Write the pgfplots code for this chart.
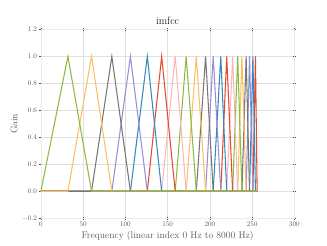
\documentclass[border=0pt]{standalone}
\usepackage{pgfplots}
\pgfplotsset{compat=1.18}
\definecolor{ggred}{HTML}{E24A33}
\definecolor{ggblue}{HTML}{348ABD}
\definecolor{ggpurple}{HTML}{988ED5}
\definecolor{gggray}{HTML}{777777}
\definecolor{ggyellow}{HTML}{FBC15E}
\definecolor{gggreen}{HTML}{8EBA42}
\definecolor{ggpink}{HTML}{FFB5B8}
\definecolor{txt}{HTML}{555555}
\begin{document}
\begin{tikzpicture}
\useasboundingbox (-0.8in,-0.528in) rectangle (5.6in,4.272in);
\begin{axis}[
  at={(0,0)}, anchor=south west,
  scale only axis, width=4.96in, height=3.696in,
  xmin=0, xmax=300, ymin=-0.2, ymax=1.2,
  xtick={0,50,...,300},
  ytick={-0.2,0,0.2,0.4,0.6,0.8,1.0,1.2},
  yticklabel style={/pgf/number format/.cd,fixed,fixed zerofill,precision=1},
  xticklabel style={/pgf/number format/.cd,fixed},
  tick label style={font=\fontsize{10}{12}\selectfont, text=txt},
  grid=major,
  major grid style={draw=black!12, line width=0.5pt},
  axis line style={draw=black!8},
  tick style={draw=black!70, line width=0.8pt},
  major tick length=4pt,
  tick align=center,
  xtick pos=both, ytick pos=both,
  title={imfcc},
  title style={font=\fontsize{15.5}{18}\selectfont, yshift=-2pt},
  xlabel={Frequency (linear index 0 Hz to 8000 Hz)},
  ylabel={Gain},
  label style={font=\fontsize{13.7}{16}\selectfont, text=txt},
  every axis plot/.append style={line width=1.5pt, no markers},
]
\addplot[ggred] coordinates {(0,0) (251,0) (254,1) (256,0)};
\addplot[ggblue] coordinates {(0,0) (247,0) (251,1) (254,0) (256,0)};
\addplot[ggpurple] coordinates {(0,0) (243,0) (247,1) (251,0) (256,0)};
\addplot[gggray] coordinates {(0,0) (238,0) (243,1) (247,0) (256,0)};
\addplot[ggyellow] coordinates {(0,0) (233,0) (238,1) (243,0) (256,0)};
\addplot[gggreen] coordinates {(0,0) (227,0) (233,1) (238,0) (256,0)};
\addplot[ggpink] coordinates {(0,0) (220,0) (227,1) (233,0) (256,0)};
\addplot[ggred] coordinates {(0,0) (213,0) (220,1) (227,0) (256,0)};
\addplot[ggblue] coordinates {(0,0) (204,0) (213,1) (220,0) (256,0)};
\addplot[ggpurple] coordinates {(0,0) (195,0) (204,1) (213,0) (256,0)};
\addplot[gggray] coordinates {(0,0) (184,0) (195,1) (204,0) (256,0)};
\addplot[ggyellow] coordinates {(0,0) (172,0) (184,1) (195,0) (256,0)};
\addplot[gggreen] coordinates {(0,0) (159,0) (172,1) (184,0) (256,0)};
\addplot[ggpink] coordinates {(0,0) (143,0) (159,1) (172,0) (256,0)};
\addplot[ggred] coordinates {(0,0) (126,0) (143,1) (159,0) (256,0)};
\addplot[ggblue] coordinates {(0,0) (106,0) (126,1) (143,0) (256,0)};
\addplot[ggpurple] coordinates {(0,0) (84,0) (106,1) (126,0) (256,0)};
\addplot[gggray] coordinates {(0,0) (60,0) (84,1) (106,0) (256,0)};
\addplot[ggyellow] coordinates {(0,0) (32,0) (60,1) (84,0) (256,0)};
\addplot[gggreen] coordinates {(0,0) (32,1) (60,0) (256,0)};
\end{axis}
\end{tikzpicture}
\end{document}
